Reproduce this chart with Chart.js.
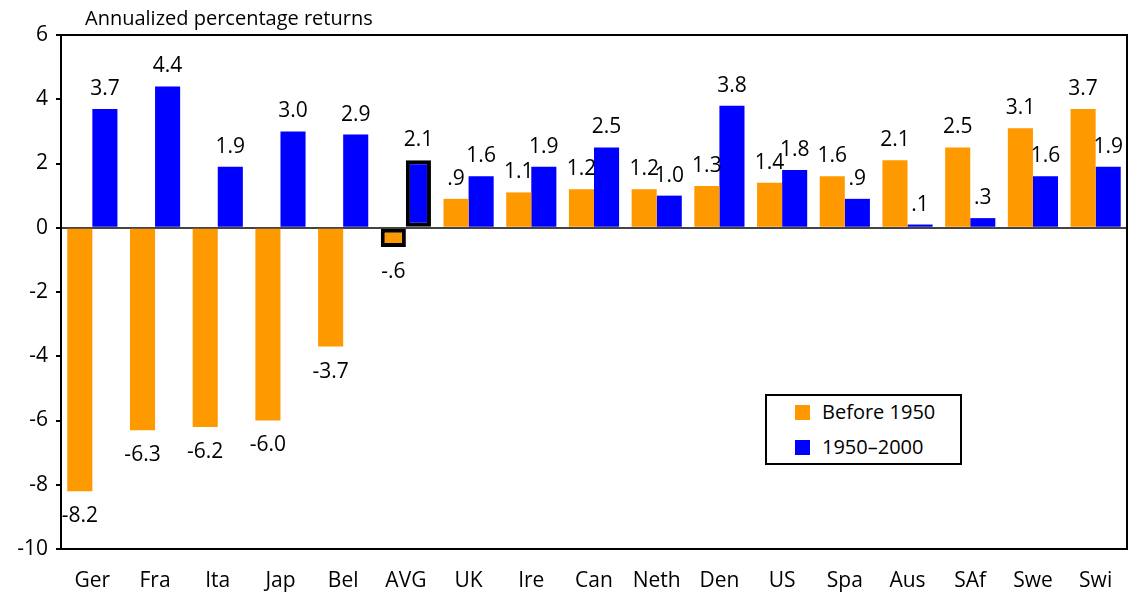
<!DOCTYPE html>
<html>
<head>
<meta charset="utf-8">
<script src="https://cdn.jsdelivr.net/npm/chart.js@4.4.1/dist/chart.umd.min.js"></script>
<style>
  body { margin: 0; background: #fff; }
  #wrap { position: relative; width: 1128px; height: 593px; }
  #legend {
    position: absolute; left: 765px; top: 394px; width: 193px; height: 67px;
    border: 2px solid #000; background: #fff;
    font-family: "Open Sans", sans-serif; font-size: 20px; color: #000;
  }
  #legend div { position: absolute; left: 28px; height: 24px; line-height: 24px; }
  #legend span { display: inline-block; width: 15px; height: 15px; margin-right: 12px; vertical-align: -1px; }
</style>
</head>
<body>
<div id="wrap">
  <canvas id="myChart" width="1128" height="593"></canvas>
  <div id="legend">
    <div style="top:4px"><span style="background:#FF9900"></span>Before 1950</div>
    <div style="top:39px"><span style="background:#0000FF"></span>1950–2000</div>
  </div>
</div>
<script>
const countries = ['Ger', 'Fra', 'Ita', 'Jap', 'Bel', 'AVG', 'UK', 'Ire', 'Can', 'Neth', 'Den', 'US', 'Spa', 'Aus', 'SAf', 'Swe', 'Swi'];
const before1950 = [-8.2, -6.3, -6.2, -6.0, -3.7, -0.6, 0.9, 1.1, 1.2, 1.2, 1.3, 1.4, 1.6, 2.1, 2.5, 3.1, 3.7];
const after1950 = [3.7, 4.4, 1.9, 3.0, 2.9, 2.1, 1.6, 1.9, 2.5, 1.0, 3.8, 1.8, 0.9, 0.1, 0.3, 1.6, 1.9];
const yTicks = [-10, -8, -6, -4, -2, 0, 2, 4, 6];

const font = "'Open Sans', sans-serif";

// black frame only on the AVG bars
const avgBorder = countries.map(c => c === 'AVG' ? 4 : 0);

function fmt(v) {
  return v.toFixed(1).replace('0.', '.');
}

const labelPlugin = {
  id: 'labels',
  afterDatasetsDraw(chart) {
    const ctx = chart.ctx;
    ctx.save();
    ctx.font = '21px ' + font;
    ctx.fillStyle = '#000';
    ctx.textAlign = 'center';
    ctx.textBaseline = 'middle';
    chart.data.datasets.forEach((ds, i) => {
      chart.getDatasetMeta(i).data.forEach((bar, j) => {
        const v = ds.data[j];
        const y = v >= 0 ? bar.y - 20 : bar.y + 25;
        ctx.fillText(fmt(v), bar.x, y);
      });
    });
    // title
    ctx.textAlign = 'left';
    ctx.font = '20px ' + font;
    ctx.fillText('Annualized percentage returns', 85, 19);
    // frame
    const a = chart.chartArea;
    ctx.strokeStyle = '#000';
    ctx.lineWidth = 2;
    ctx.strokeRect(a.left, a.top, a.right - a.left, a.bottom - a.top);
    ctx.restore();
  }
};

new Chart(document.getElementById('myChart'), {
  type: 'bar',
  data: {
    labels: countries,
    datasets: [{
      label: 'Before 1950',
      data: before1950,
      backgroundColor: '#FF9900',
      borderColor: '#000',
      borderWidth: avgBorder,
      borderSkipped: false
    }, {
      label: '1950–2000',
      data: after1950,
      backgroundColor: '#0000FF',
      borderColor: '#000',
      borderWidth: avgBorder,
      borderSkipped: false
    }]
  },
  options: {
    responsive: false,
    animation: false,
    layout: { padding: { top: 35, right: 1, left: 0, bottom: 0 } },
    plugins: {
      legend: { display: false },
      title: { display: false },
      tooltip: { enabled: false }
    },
    datasets: { bar: { categoryPercentage: 0.8, barPercentage: 1.0 } },
    scales: {
      x: {
        grid: { display: false },
        border: { display: true, color: '#000', width: 2 },
        ticks: { color: '#000', font: { family: font, size: 21 }, padding: 11, maxRotation: 0 },
        afterFit(scale) { scale.height = 44; }
      },
      y: {
        min: -10,
        max: 6,
        afterBuildTicks(scale) { scale.ticks = yTicks.map(v => ({ value: v })); },
        grid: {
          drawOnChartArea: true,
          drawTicks: true,
          tickLength: 5,
          tickColor: '#000',
          lineWidth: 2,
          color: c => c.tick && c.tick.value === 0 ? '#444' : 'rgba(0,0,0,0)'
        },
        border: { display: true, color: '#000', width: 2 },
        ticks: { color: '#000', font: { family: font, size: 21 }, padding: 8 },
        afterFit(scale) { scale.width = 61; }
      }
    }
  },
  plugins: [labelPlugin]
});
</script>
</body>
</html>
